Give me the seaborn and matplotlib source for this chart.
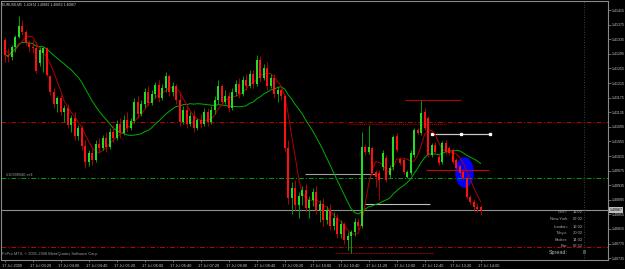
import numpy as np
import pandas as pd
import matplotlib
matplotlib.use("Agg")
import matplotlib.pyplot as plt
import seaborn as sns
from matplotlib.patches import Ellipse
from matplotlib.transforms import ScaledTranslation, blended_transform_factory

# ---------------- data ----------------
title_text = "EURUSD,M5  1.40874 1.40882 1.40852 1.40867"
x_labels = ["17 Jul 2009", "17 Jul 03:20", "17 Jul 04:00", "17 Jul 04:40", "17 Jul 05:20",
            "17 Jul 06:00", "17 Jul 06:40", "17 Jul 07:20", "17 Jul 08:00", "17 Jul 08:40",
            "17 Jul 09:20", "17 Jul 10:00", "17 Jul 10:40", "17 Jul 11:20", "17 Jul 12:00",
            "17 Jul 12:40", "17 Jul 13:20", "17 Jul 14:00"]
y_ticks = [1.40735, 1.40775, 1.40815, 1.40855, 1.40895, 1.40935, 1.40975, 1.41015, 1.41055,
           1.41095, 1.41135, 1.41175, 1.41215, 1.41255, 1.41295, 1.41335, 1.41375, 1.41415]

opens = [1.41333, 1.41292, 1.41287, 1.41314, 1.41341, 1.41372, 1.41355, 1.41325, 1.41314, 1.41311,
         1.41270, 1.41297, 1.41311, 1.41234, 1.41191, 1.41158, 1.41174, 1.41136, 1.41147, 1.41100,
         1.41119, 1.41070, 1.41092, 1.41043, 1.40999, 1.41024, 1.41004, 1.41048, 1.41037, 1.41065,
         1.41040, 1.41081, 1.41065, 1.41103, 1.41078, 1.41114, 1.41092, 1.41111, 1.41163, 1.41130,
         1.41158, 1.41191, 1.41160, 1.41185, 1.41210, 1.41174, 1.41202, 1.41234, 1.41191, 1.41207,
         1.41169, 1.41108, 1.41141, 1.41103, 1.41125, 1.41092, 1.41114, 1.41103, 1.41136, 1.41108,
         1.41141, 1.41169, 1.41207, 1.41163, 1.41180, 1.41147, 1.41191, 1.41213, 1.41185, 1.41224,
         1.41207, 1.41240, 1.41213, 1.41278, 1.41229, 1.41256, 1.41207, 1.41229, 1.41185, 1.41196,
         1.41180, 1.41037, 1.40900, 1.40928, 1.40881, 1.40906, 1.40922, 1.40873, 1.40895, 1.40917,
         1.40867, 1.40884, 1.40840, 1.40867, 1.40824, 1.40845, 1.40802, 1.40829, 1.40785, 1.40796,
         1.40807, 1.40834, 1.40824, 1.41040, 1.41026, 1.41037, 1.40971, 1.40969, 1.40985, 1.41010,
         1.40963, 1.40985, 1.41070, 1.41007, 1.41004, 1.40958, 1.40969, 1.41018, 1.41087, 1.41078,
         1.41136, 1.41119, 1.41018, 1.41045, 1.41012, 1.40999, 1.41051, 1.41037, 1.41032, 1.41004,
         1.40988, 1.40971, 1.40955, 1.40903, 1.40889, 1.40876, 1.40874]
highs = [1.41339, 1.41311, 1.41319, 1.41347, 1.41399, 1.41388, 1.41360, 1.41333, 1.41333, 1.41328,
         1.41314, 1.41314, 1.41314, 1.41237, 1.41202, 1.41180, 1.41182, 1.41155, 1.41158, 1.41128,
         1.41136, 1.41100, 1.41100, 1.41059, 1.41032, 1.41037, 1.41059, 1.41065, 1.41073, 1.41081,
         1.41092, 1.41100, 1.41114, 1.41119, 1.41128, 1.41136, 1.41119, 1.41174, 1.41180, 1.41169,
         1.41202, 1.41207, 1.41196, 1.41218, 1.41224, 1.41213, 1.41245, 1.41240, 1.41218, 1.41213,
         1.41191, 1.41152, 1.41155, 1.41136, 1.41141, 1.41119, 1.41130, 1.41147, 1.41147, 1.41152,
         1.41180, 1.41224, 1.41213, 1.41196, 1.41191, 1.41202, 1.41224, 1.41229, 1.41234, 1.41240,
         1.41251, 1.41251, 1.41292, 1.41289, 1.41267, 1.41273, 1.41240, 1.41240, 1.41207, 1.41202,
         1.41185, 1.41059, 1.40944, 1.40950, 1.40917, 1.40933, 1.40939, 1.40906, 1.40928, 1.40933,
         1.40895, 1.40900, 1.40878, 1.40884, 1.40862, 1.40856, 1.40840, 1.40834, 1.40807, 1.40813,
         1.40845, 1.40845, 1.41081, 1.41048, 1.41100, 1.41043, 1.40977, 1.40977, 1.41032, 1.41018,
         1.40991, 1.41073, 1.41078, 1.41012, 1.41010, 1.40977, 1.41032, 1.41092, 1.41092, 1.41169,
         1.41147, 1.41125, 1.41051, 1.41054, 1.41021, 1.41056, 1.41059, 1.41043, 1.41037, 1.41010,
         1.40993, 1.40977, 1.40960, 1.40908, 1.40897, 1.40886, 1.40882]
lows = [1.41273, 1.41273, 1.41278, 1.41300, 1.41339, 1.41347, 1.41319, 1.41300, 1.41297, 1.41243,
        1.41262, 1.41245, 1.41234, 1.41182, 1.41147, 1.41136, 1.41128, 1.41108, 1.41092, 1.41081,
        1.41059, 1.41059, 1.41032, 1.40982, 1.40988, 1.40991, 1.40999, 1.41026, 1.41032, 1.41026,
        1.41034, 1.41054, 1.41059, 1.41065, 1.41073, 1.41081, 1.41087, 1.41106, 1.41119, 1.41125,
        1.41147, 1.41152, 1.41155, 1.41174, 1.41163, 1.41169, 1.41191, 1.41180, 1.41180, 1.41158,
        1.41097, 1.41103, 1.41092, 1.41097, 1.41081, 1.41087, 1.41092, 1.41097, 1.41097, 1.41103,
        1.41130, 1.41158, 1.41152, 1.41158, 1.41136, 1.41141, 1.41180, 1.41174, 1.41180, 1.41196,
        1.41202, 1.41202, 1.41207, 1.41218, 1.41224, 1.41196, 1.41202, 1.41174, 1.41163, 1.41169,
        1.41026, 1.40884, 1.40856, 1.40867, 1.40845, 1.40881, 1.40862, 1.40845, 1.40878, 1.40856,
        1.40834, 1.40824, 1.40829, 1.40813, 1.40813, 1.40791, 1.40791, 1.40774, 1.40758, 1.40749,
        1.40796, 1.40813, 1.40818, 1.41018, 1.41021, 1.40963, 1.40930, 1.40895, 1.40977, 1.40944,
        1.40955, 1.40977, 1.41026, 1.40991, 1.40966, 1.40955, 1.40963, 1.41012, 1.41073, 1.41073,
        1.41087, 1.41012, 1.41012, 1.41021, 1.40991, 1.40993, 1.41021, 1.41018, 1.40993, 1.40977,
        1.40960, 1.40950, 1.40897, 1.40884, 1.40867, 1.40862, 1.40852]
closes = [1.41292, 1.41287, 1.41314, 1.41341, 1.41372, 1.41355, 1.41325, 1.41314, 1.41311, 1.41248,
          1.41306, 1.41311, 1.41237, 1.41191, 1.41158, 1.41174, 1.41136, 1.41147, 1.41100, 1.41119,
          1.41070, 1.41092, 1.41043, 1.40999, 1.41024, 1.41004, 1.41048, 1.41037, 1.41065, 1.41040,
          1.41081, 1.41065, 1.41103, 1.41078, 1.41114, 1.41092, 1.41111, 1.41163, 1.41130, 1.41158,
          1.41191, 1.41160, 1.41185, 1.41210, 1.41174, 1.41202, 1.41234, 1.41191, 1.41207, 1.41169,
          1.41108, 1.41141, 1.41103, 1.41125, 1.41092, 1.41114, 1.41103, 1.41136, 1.41108, 1.41141,
          1.41169, 1.41207, 1.41163, 1.41180, 1.41147, 1.41191, 1.41213, 1.41185, 1.41224, 1.41207,
          1.41240, 1.41213, 1.41278, 1.41229, 1.41256, 1.41207, 1.41229, 1.41185, 1.41196, 1.41180,
          1.41037, 1.40900, 1.40928, 1.40881, 1.40906, 1.40922, 1.40873, 1.40895, 1.40917, 1.40867,
          1.40884, 1.40840, 1.40867, 1.40824, 1.40845, 1.40802, 1.40829, 1.40785, 1.40796, 1.40807,
          1.40834, 1.40824, 1.41040, 1.41026, 1.41040, 1.40969, 1.40958, 1.40950, 1.41024, 1.40950,
          1.40982, 1.41067, 1.41032, 1.40996, 1.40971, 1.40971, 1.41024, 1.41087, 1.41078, 1.41133,
          1.41092, 1.41018, 1.41045, 1.41026, 1.40996, 1.41051, 1.41026, 1.41024, 1.40999, 1.40982,
          1.40969, 1.40955, 1.40903, 1.40889, 1.40876, 1.40870, 1.40867]

order_label = "#10398940 sell"
order_price = 1.40954
stop_loss = 1.41107
take_profit = 1.40767

# user drawn horizontal segments: (price, start bar, end bar)
seg_darkred = (1.41168, 114.4, 130.4)
seg_red = (1.40976, 120.4, 138.4)
seg_white = (1.41076, 122.1, 138.7)
seg_red_dotted = (1.41103, 98.1, 126.4)
seg_grey = (1.40965, 85.8, 105.8)
seg_white2 = (1.40884, 102.9, 121.5)
seg_red_dashed = (1.40749, 94.4, 122.4)
ellipse_center = (131.4, 1.40970)
ellipse_size = (4.9, 0.00080)
vline_bar = 165.5

info_names = ["GMT:", "New York:", "London:", "Tokyo:", "Broker:", "Bar:"]
info_values = ["11:02", "07:02", "12:02", "20:02", "14:02", "02:52"]
spread_value = "8"
copyright_text = "FxPro MT4, \u00a9 2001-2008 MetaQuotes Software Corp."

# ---------------- plot ----------------
sns.set_theme(style="dark")
plt.rcParams["font.family"] = ["Liberation Sans", "DejaVu Sans"]

df = pd.DataFrame({"open": opens, "high": highs, "low": lows, "close": closes})
df["bar"] = np.arange(len(df))
df["ma_green"] = df["close"].rolling(20, min_periods=1).mean()
df["ma_red"] = ((df["high"] + df["low"]) / 2).rolling(5, min_periods=1).mean()

fig = plt.figure(figsize=(6.25, 2.69), dpi=100)
fig.patch.set_facecolor("black")
ax = fig.add_axes([1.5 / 625, 9 / 269, 606.2 / 625, 259 / 269])
ax.set_facecolor("black")
ax.grid(False)
ax.set_xlim(-0.91, 172.3)
ax.set_ylim(1.40730, 1.41440)

# background objects
ax.add_patch(Ellipse(ellipse_center, ellipse_size[0], ellipse_size[1], color="#0000ff", zorder=1))
ax.hlines(seg_darkred[0], seg_darkred[1], seg_darkred[2], color="#b00000", lw=0.8, zorder=1)
ax.hlines(seg_red[0], seg_red[1], seg_red[2], color="#d00000", lw=0.8, zorder=1)
ax.hlines(seg_white[0], seg_white[1], seg_white[2], color="#c8c8c8", lw=0.9, zorder=1)
ax.plot([seg_white[1], (seg_white[1] + seg_white[2]) / 2, seg_white[2]], [seg_white[0]] * 3,
        ls="none", marker="s", ms=1.4, color="white", zorder=1)
ax.hlines(seg_red_dotted[0], seg_red_dotted[1], seg_red_dotted[2], color="#a00000", lw=0.7,
          linestyles=(0, (1, 1)), zorder=1)
ax.hlines(seg_grey[0], seg_grey[1], seg_grey[2], color="#a0a0a0", lw=0.8, zorder=1)
ax.hlines(seg_white2[0], seg_white2[1], seg_white2[2], color="#c0c0c0", lw=0.8, zorder=1)
ax.hlines(seg_red_dashed[0], seg_red_dashed[1], seg_red_dashed[2], color="#a00000", lw=0.7,
          linestyles=(0, (2, 1)), zorder=1)

dashdot = (0, (5, 2, 1.2, 2))
ax.axhline(stop_loss, color="#c00000", lw=0.7, ls=dashdot, zorder=1)
ax.axhline(take_profit, color="#c00000", lw=0.7, ls=dashdot, zorder=1)
ax.axhline(order_price, color="#00a000", lw=0.7, ls=dashdot, zorder=1)
ax.axhline(closes[-1], color="#909090", lw=0.8, zorder=1)
ax.axvline(vline_bar, color="#505050", lw=0.6, ls=(0, (1, 2)), zorder=1)
ax.text(0.5, order_price + 0.00004, order_label, color="#9a9a9a", fontsize=2.8,
        ha="left", va="bottom", zorder=2)

# indicator lines
sns.lineplot(data=df, x="bar", y="ma_green", color="#00b000", lw=0.7, ax=ax, zorder=3)
sns.lineplot(data=df, x="bar", y="ma_red", color="#b00000", lw=0.7, ax=ax, zorder=3)

# candles
up = df["close"] >= df["open"]
ax.vlines(df["bar"][up], df["low"][up], df["high"][up], color="#00a000", lw=0.7, zorder=4)
ax.vlines(df["bar"][~up], df["low"][~up], df["high"][~up], color="#b00000", lw=0.7, zorder=4)
body_lo = np.minimum(df["open"], df["close"])
body_h = np.maximum(np.abs(df["close"] - df["open"]), 0.000025)
ax.bar(df["bar"][up], body_h[up], bottom=body_lo[up], width=0.62, color="#22dd22",
       linewidth=0, zorder=5)
ax.bar(df["bar"][~up], body_h[~up], bottom=body_lo[~up], width=0.62, color="#ff1010",
       linewidth=0, zorder=5)

# axes styling
for side in ["left", "top", "right", "bottom"]:
    ax.spines[side].set_color("#8a8a8a")
    ax.spines[side].set_linewidth(0.8)
ax.set_xlabel("")
ax.set_ylabel("")
ax.yaxis.tick_right()
ax.set_yticks(y_ticks)
ax.set_yticklabels([f"{v:.5f}" for v in y_ticks])
ax.tick_params(axis="y", colors="#8a8a8a", labelcolor="#c8c8c8", labelsize=2.6,
               length=2.2, width=0.5, pad=0.8, right=True, left=False)
tick_bars = list(range(0, 137, 8))
ax.set_xticks(tick_bars)
ax.set_xticklabels(x_labels, ha="left")
ax.tick_params(axis="x", colors="#8a8a8a", labelcolor="#c8c8c8", labelsize=2.8,
               length=1.5, width=0.5, pad=1.5, bottom=True)
shift = ScaledTranslation(-3 / 100, 0, fig.dpi_scale_trans)
for lbl in ax.get_xticklabels():
    lbl.set_transform(lbl.get_transform() + shift)

# texts
ax.text(0.0015, 0.995, title_text, transform=ax.transAxes, color="#d0d0d0",
        fontsize=2.4, ha="left", va="top")
ax.text(0.0015, 0.024, copyright_text, transform=ax.transAxes, color="#9a9a9a",
        fontsize=2.9, ha="left", va="center")

info_y = [212.3, 219.3, 226.5, 233.2, 239.8, 246.2]
for name, val, ypx in zip(info_names, info_values, info_y):
    yf = 1 - ypx / 269
    fig.text(568 / 625, yf, name, color="#a8a8a8", fontsize=3.0, ha="right", va="center")
    fig.text(573 / 625, yf, val, color="#a8a8a8", fontsize=3.0, ha="left", va="center")
fig.text(568 / 625, 1 - 252.5 / 269, "Spread:", color="#b8b8b8", fontsize=3.9, ha="right", va="center")
fig.text(583 / 625, 1 - 252.5 / 269, spread_value, color="#b8b8b8", fontsize=3.9, ha="left", va="center")

# bid price tag
bt = blended_transform_factory(fig.transFigure, ax.transData)
fig.text(609.5 / 625, closes[-1], f"{closes[-1]:.5f}", transform=bt, color="black",
         fontsize=2.6, ha="left", va="center",
         bbox=dict(boxstyle="square,pad=0.15", fc="#c0c0c0", ec="none"))

fig.savefig("out.png", dpi=100, facecolor="black")
